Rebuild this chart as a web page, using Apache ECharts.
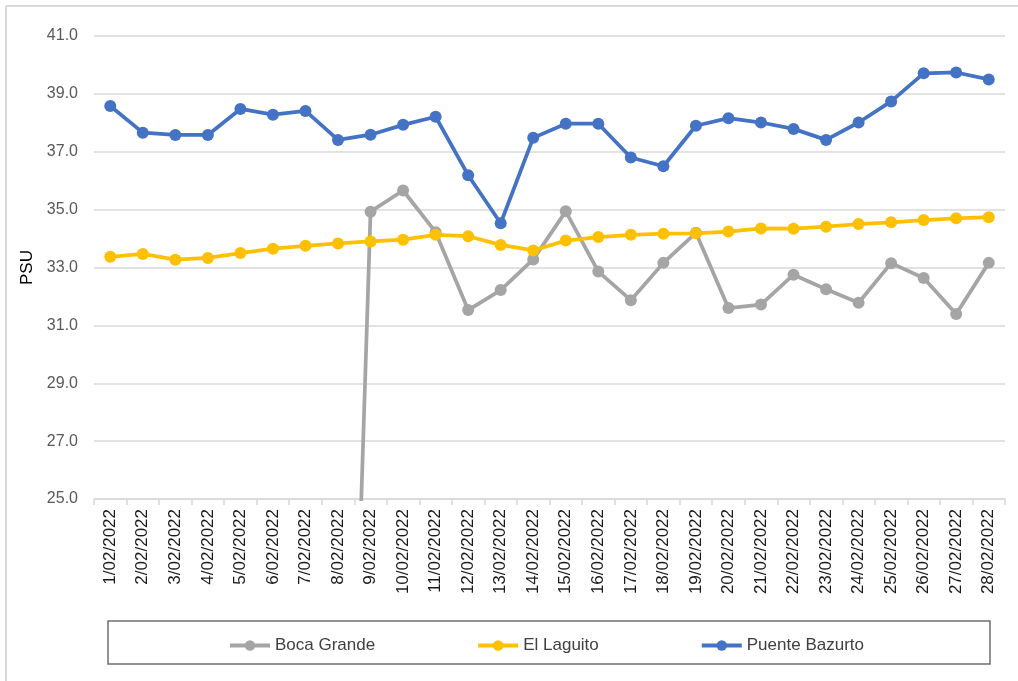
<!DOCTYPE html>
<html>
<head>
<meta charset="utf-8">
<script src="https://cdn.jsdelivr.net/npm/echarts@6/dist/echarts.min.js"></script>
<style>
  html, body { margin: 0; padding: 0; background: #fff; }
  #chart { width: 1018px; height: 681px; }
</style>
</head>
<body>
<div id="chart"></div>
<script>
// fechas del mes de febrero
const dates = [
  '1/02/2022', '2/02/2022', '3/02/2022', '4/02/2022', '5/02/2022', '6/02/2022', '7/02/2022',
  '8/02/2022', '9/02/2022', '10/02/2022', '11/02/2022', '12/02/2022', '13/02/2022', '14/02/2022',
  '15/02/2022', '16/02/2022', '17/02/2022', '18/02/2022', '19/02/2022', '20/02/2022', '21/02/2022',
  '22/02/2022', '23/02/2022', '24/02/2022', '25/02/2022', '26/02/2022', '27/02/2022', '28/02/2022'
]
const seriesNames = ['Boca Grande', 'El Laguito', 'Puente Bazurto']

// Boca Grande sin datos (0) hasta el 8/02
const bocaGrande = [
  0, 0, 0, 0, 0, 0, 0, 0, 34.93, 35.66, 34.22, 31.53, 32.22, 33.28,
  34.94, 32.86, 31.87, 33.16, 34.2, 31.6, 31.72, 32.75, 32.25, 31.78, 33.15, 32.64, 31.39, 33.16
]
const elLaguito = [
  33.37, 33.47, 33.27, 33.33, 33.5, 33.65, 33.75, 33.83, 33.9, 33.96, 34.13, 34.08, 33.78, 33.59,
  33.93, 34.05, 34.13, 34.17, 34.18, 34.24, 34.35, 34.34, 34.41, 34.5, 34.56, 34.64, 34.7, 34.74
]
const puenteBazurto = [
  38.58, 37.66, 37.58, 37.58, 38.48, 38.28, 38.41, 37.41, 37.59, 37.93, 38.21, 36.19, 34.53, 37.48,
  37.97, 37.97, 36.8, 36.5, 37.9, 38.16, 38.01, 37.79, 37.41, 38.01, 38.74, 39.71, 39.74, 39.5
]
const yMin = 25
const yMax = 41
const yStep = 2

const colors = ['#A5A5A5', '#FFC000', '#4472C4']
const font = 'Liberation Sans'

const chart = echarts.init(document.getElementById('chart'))

const makeLine = (name, data, color) => ({
  name: name,
  type: 'line',
  data: data,
  symbol: 'circle',
  symbolSize: 12,
  clip: true,
  lineStyle: { color: color, width: 3.75 },
  itemStyle: { color: color },
})

const option = {
  animation: false,
  color: colors,
  grid: { left: 94, right: 13, top: 36, bottom: 182 },
  legend: {
    data: seriesNames,
    left: 223,
    top: 632,
    itemWidth: 40,
    itemHeight: 13,
    itemGap: 101,
    lineStyle: { width: 4 },
    textStyle: { fontFamily: font, fontSize: 17, color: '#404040' },
  },
  xAxis: {
    type: 'category',
    data: dates,
    boundaryGap: true,
    axisLine: { lineStyle: { color: '#d9d9d9', width: 1.5 } },
    axisTick: { show: true, length: 6, lineStyle: { color: '#d9d9d9', width: 1.5 } },
    axisLabel: {
      interval: 0,
      rotate: 90,
      margin: 10,
      fontFamily: font,
      fontSize: 17,
      color: '#1a1a1a',
    },
  },
  yAxis: {
    type: 'value',
    min: yMin,
    max: yMax,
    interval: yStep,
    name: 'PSU',
    nameLocation: 'middle',
    nameRotate: 90,
    nameGap: 58,
    nameTextStyle: { fontFamily: font, fontSize: 17, color: '#000' },
    axisLine: { show: false },
    axisTick: { show: false },
    axisLabel: {
      margin: 16,
      fontFamily: font,
      fontSize: 16,
      color: '#595959',
      formatter: (v) => v.toFixed(1),
    },
    splitLine: { lineStyle: { color: '#d9d9d9', width: 1.5 } },
  },
  graphic: [
    // marco del grafico
    { type: 'line', shape: { x1: 6, y1: 6, x2: 1018, y2: 6 }, style: { stroke: '#d9d9d9', lineWidth: 2 } },
    { type: 'line', shape: { x1: 6, y1: 6, x2: 6, y2: 681 }, style: { stroke: '#d9d9d9', lineWidth: 2 } },
    // caja de la leyenda
    { type: 'rect', shape: { x: 108, y: 621, width: 882, height: 43 }, style: { fill: 'none', stroke: '#6f6f6f', lineWidth: 1.5 } },
  ],
  series: [
    makeLine(seriesNames[0], bocaGrande, colors[0]),
    makeLine(seriesNames[1], elLaguito, colors[1]),
    makeLine(seriesNames[2], puenteBazurto, colors[2]),
  ],
}

chart.setOption(option)
window.addEventListener('resize', () => {
  chart.resize()
})
</script>
</body>
</html>
